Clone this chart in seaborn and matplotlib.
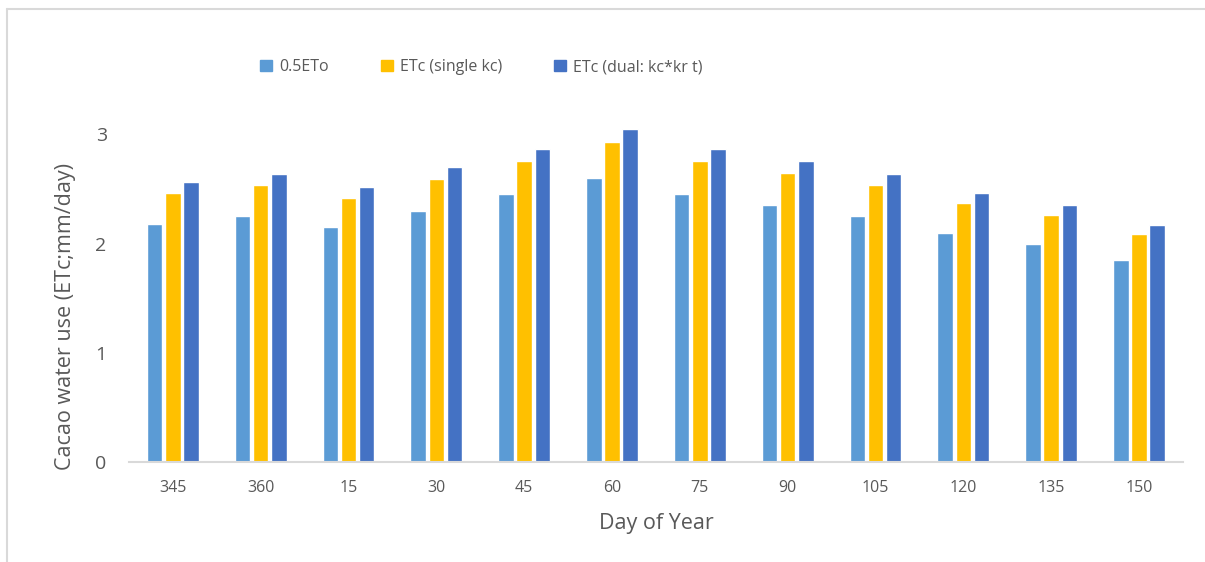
import pandas as pd
import seaborn as sns
import matplotlib.pyplot as plt
from matplotlib.lines import Line2D

# data
days = ["345", "360", "15", "30", "45", "60", "75", "90", "105", "120", "135", "150"]
eto_half = [2.18, 2.25, 2.15, 2.30, 2.45, 2.60, 2.45, 2.35, 2.25, 2.10, 2.00, 1.85]
etc_single = [2.46, 2.54, 2.42, 2.59, 2.76, 2.93, 2.76, 2.65, 2.54, 2.37, 2.26, 2.09]
etc_dual = [2.56, 2.64, 2.52, 2.70, 2.87, 3.05, 2.87, 2.76, 2.64, 2.46, 2.35, 2.17]
series = ["0.5ETo", "ETc (single kc)", "ETc (dual: kc*kr t)"]
colors = ["#5B9BD5", "#FFC000", "#4472C4"]

df = pd.DataFrame({"day": days * 3,
                   "value": eto_half + etc_single + etc_dual,
                   "series": [series[0]] * 12 + [series[1]] * 12 + [series[2]] * 12})

sns.set_style("white")
plt.rcParams['font.family'] = ['Open Sans', 'DejaVu Sans']
txt = "#595959"

fig = plt.figure(figsize=(12.05, 5.62), dpi=100)
ax = fig.add_axes([0.107, 0.178, 0.8747, 0.680])

sns.barplot(data=df, x="day", y="value", hue="series", order=days, hue_order=series,
            palette=colors, width=0.62, gap=0.15, ax=ax, legend=False, saturation=1)

ax.set_ylim(0, 3.5)
ax.set_xlim(-0.5, len(days) - 0.5)
ax.set_yticks([0, 1, 2, 3])
ax.tick_params(axis="y", labelsize=14, labelcolor=txt, length=0, pad=16)
ax.tick_params(axis="x", labelsize=11.5, labelcolor=txt, length=0, pad=13)
ax.set_xlabel("Day of Year", fontsize=15.5, color=txt, labelpad=12)
ax.set_ylabel("Cacao water use (ETc;mm/day)", fontsize=15.5, color=txt)
ax.yaxis.set_label_coords(-0.05, 0.38)

for s in ["top", "right", "left"]:
    ax.spines[s].set_visible(False)
ax.spines["bottom"].set_color("#d9d9d9")
ax.spines["bottom"].set_linewidth(1.5)

handles = [plt.Rectangle((0, 0), 1, 1, color=c) for c in colors]
fig.legend(handles, series, loc="center", bbox_to_anchor=(0.3995, 1 - 67 / 562), ncol=3,
           frameon=False, fontsize=11.5, labelcolor=txt, handlelength=0.75, handleheight=0.75,
           handletextpad=0.4, columnspacing=3.3)

# chart border (top and left edges only visible)
fig.add_artist(Line2D([7 / 1205, 1], [1 - 9 / 562, 1 - 9 / 562], color="#d9d9d9", lw=1.5,
                      transform=fig.transFigure))
fig.add_artist(Line2D([7 / 1205, 7 / 1205], [0, 1 - 9 / 562], color="#d9d9d9", lw=1.5,
                      transform=fig.transFigure))

fig.savefig("out.png", dpi=100)
